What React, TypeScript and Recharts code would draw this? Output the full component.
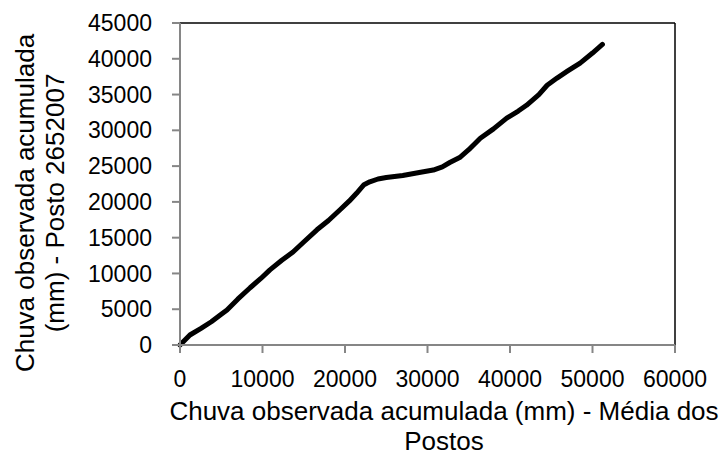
import React from 'react';
import { LineChart, Line, XAxis, YAxis, ReferenceLine, Label } from 'recharts';

const mediaPostos = [0, 1200, 2500, 3800, 5000, 5700, 7000, 8500, 9800, 10900, 12300, 13700, 15000, 16600, 18000, 19400, 20500, 21400, 22300, 23000, 24000, 25000, 27000, 29000, 30700, 31800, 32700, 33900, 35000, 36400, 38000, 39600, 41000, 42000, 43500, 44500, 45700, 47000, 48500, 50000, 51200];
const posto2652007 = [0, 1400, 2300, 3250, 4300, 4900, 6400, 8000, 9300, 10500, 11800, 13000, 14400, 16100, 17400, 18900, 20100, 21200, 22400, 22800, 23200, 23400, 23700, 24100, 24450, 24900, 25500, 26200, 27300, 28900, 30200, 31700, 32700, 33500, 35000, 36300, 37300, 38300, 39400, 40800, 42000];
const xTicks = [0, 10000, 20000, 30000, 40000, 50000, 60000];
const yTicks = [0, 5000, 10000, 15000, 20000, 25000, 30000, 35000, 40000, 45000];

const data = mediaPostos.map((x, i) => ({ x, y: posto2652007[i] }));

const FONT = 'Liberation Sans, Arial, sans-serif';
const AXIS_GRAY = '#868686';
const TITLE_SIZE = 26;

const XTitle = () => (
  <g>
    <text x={444} y={420} textAnchor="middle" fontFamily={FONT} fontSize={TITLE_SIZE} fill="#000">Chuva observada acumulada (mm) - Média dos</text>
    <text x={444} y={450} textAnchor="middle" fontFamily={FONT} fontSize={TITLE_SIZE} fill="#000">Postos</text>
  </g>
);

const YTitle = () => (
  <g>
    <text x={34} y={203} transform="rotate(-90 34 203)" textAnchor="middle" fontFamily={FONT} fontSize={TITLE_SIZE} fill="#000">Chuva observada acumulada</text>
    <text x={64} y={203} transform="rotate(-90 64 203)" textAnchor="middle" fontFamily={FONT} fontSize={TITLE_SIZE} fill="#000">(mm) - Posto 2652007</text>
  </g>
);

export default function App() {
  return (
    <div style={{ position: 'absolute', left: 0, top: 0, background: '#fff' }}>
      <LineChart width={728} height={458} data={data} margin={{ top: 23, right: 53, bottom: 0, left: 0 }}>
        <XAxis
          dataKey="x"
          type="number"
          domain={[0, 60000]}
          ticks={xTicks}
          interval={0}
          height={113}
          tickSize={8}
          tickMargin={18}
          stroke={AXIS_GRAY}
          strokeWidth={2}
          tick={{ fill: '#000', fontSize: 23, fontFamily: FONT }}
        >
          <Label content={XTitle} />
        </XAxis>
        <YAxis
          dataKey="y"
          type="number"
          domain={[0, 45000]}
          ticks={yTicks}
          interval={0}
          width={180}
          tickSize={8}
          tickMargin={20}
          stroke={AXIS_GRAY}
          strokeWidth={2}
          tick={{ fill: '#000', fontSize: 23, fontFamily: FONT }}
        >
          <Label content={YTitle} />
        </YAxis>
        <ReferenceLine y={45000} stroke="#000" strokeWidth={1.5} />
        <ReferenceLine x={60000} stroke="#000" strokeWidth={1.5} />
        <Line
          dataKey="y"
          type="linear"
          stroke="#000"
          strokeWidth={5}
          dot={false}
          strokeLinejoin="round"
          strokeLinecap="round"
          isAnimationActive={false}
        />
      </LineChart>
    </div>
  );
}
